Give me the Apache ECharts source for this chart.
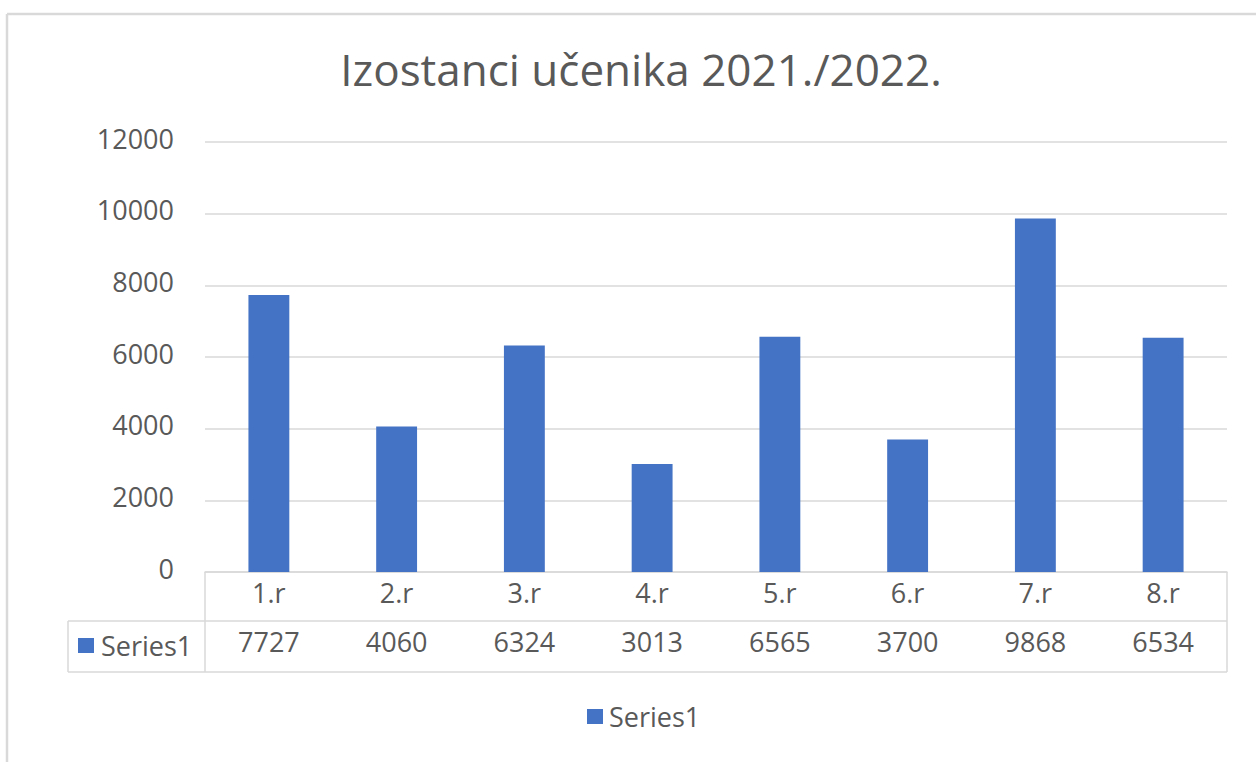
<!DOCTYPE html>
<html>
<head>
<meta charset="utf-8">
<script src="https://cdn.jsdelivr.net/npm/echarts@6/dist/echarts.min.js"></script>
<style>html,body{margin:0;padding:0;background:#fff;}#c{width:1256px;height:762px;}</style>
</head>
<body>
<div id="c"></div>
<script>
const titleText = 'Izostanci učenika 2021./2022.';
const categories = ['1.r', '2.r', '3.r', '4.r', '5.r', '6.r', '7.r', '8.r'];
const seriesName = 'Series1';
const values = [7727, 4060, 6324, 3013, 6565, 3700, 9868, 6534];
const yTicks = [0, 2000, 4000, 6000, 8000, 10000, 12000];

const FONT = 'Open Sans';
const TXT = '#595959';
const LINE = '#D9D9D9';
const BAR = '#4472C4';
const FS = 27;

// layout
const G = {left: 205, right: 1227, top: 142, bottom: 572};
const ROW2 = 621, TBOT = 672, TLEFT = 68;

const chart = echarts.init(document.getElementById('c'), null, {renderer: 'svg'});
const lineStyle = {stroke: LINE, lineWidth: 1.5};
chart.setOption({
  animation: false,
  backgroundColor: '#fff',
  title: {
    text: titleText,
    left: 636, textAlign: 'center', top: 42,
    textStyle: {fontFamily: FONT, fontSize: 44, fontWeight: 'normal', color: TXT}
  },
  grid: {left: G.left, right: 1256 - G.right, top: G.top, bottom: 762 - G.bottom, containLabel: false},
  legend: {
    data: [seriesName], left: 582, top: 698,
    icon: 'rect', itemWidth: 16, itemHeight: 15,
    textStyle: {fontFamily: FONT, fontSize: FS, color: TXT, padding: [0, 0, 0, 1]}
  },
  xAxis: [{
    type: 'category', data: categories, position: 'bottom',
    axisLine: {show: true, lineStyle: {color: LINE, width: 1.5}},
    axisTick: {show: false},
    axisLabel: {fontFamily: FONT, fontSize: FS, color: TXT, margin: 7}
  }, {
    type: 'category', data: categories, position: 'bottom', offset: 49,
    axisLine: {show: false}, axisTick: {show: false},
    axisLabel: {fontFamily: FONT, fontSize: FS, color: TXT, margin: 7,
      formatter: (v, i) => String(values[i])}
  }],
  yAxis: {
    type: 'value', min: yTicks[0], max: yTicks[yTicks.length - 1], interval: 2000,
    axisLine: {show: false}, axisTick: {show: false},
    splitLine: {lineStyle: {color: LINE, width: 1.5}},
    axisLabel: {fontFamily: FONT, fontSize: FS, color: TXT, margin: 31,
      formatter: v => '{a|' + v + '}',
      rich: {a: {fontFamily: FONT, fontSize: FS, color: TXT, padding: [0, 0, 8, 0]}}}
  },
  series: [{
    name: seriesName, type: 'bar', data: values, barWidth: '32%',
    itemStyle: {color: BAR}
  }],
  graphic: [
    {type: 'line', shape: {x1: 7, y1: 14, x2: 1256, y2: 14}, style: {stroke: LINE, lineWidth: 2.5}, silent: true},
    {type: 'line', shape: {x1: 7, y1: 14, x2: 7, y2: 762}, style: {stroke: LINE, lineWidth: 2.5}, silent: true},
    {type: 'line', shape: {x1: G.left, y1: G.bottom, x2: G.left, y2: TBOT}, style: lineStyle, silent: true},
    {type: 'line', shape: {x1: G.right, y1: G.bottom, x2: G.right, y2: TBOT}, style: lineStyle, silent: true},
    {type: 'line', shape: {x1: TLEFT, y1: ROW2, x2: G.right, y2: ROW2}, style: lineStyle, silent: true},
    {type: 'line', shape: {x1: TLEFT, y1: TBOT, x2: G.right, y2: TBOT}, style: lineStyle, silent: true},
    {type: 'line', shape: {x1: TLEFT, y1: ROW2, x2: TLEFT, y2: TBOT}, style: lineStyle, silent: true},
    {type: 'rect', shape: {x: 78, y: 638, width: 16, height: 15}, style: {fill: BAR}, silent: true},
    {type: 'text', x: 101, y: 645, style: {text: seriesName, fontFamily: FONT, fontSize: FS, fill: TXT, textVerticalAlign: 'middle', verticalAlign: 'middle'}, silent: true}
  ]
});
</script>
</body>
</html>
